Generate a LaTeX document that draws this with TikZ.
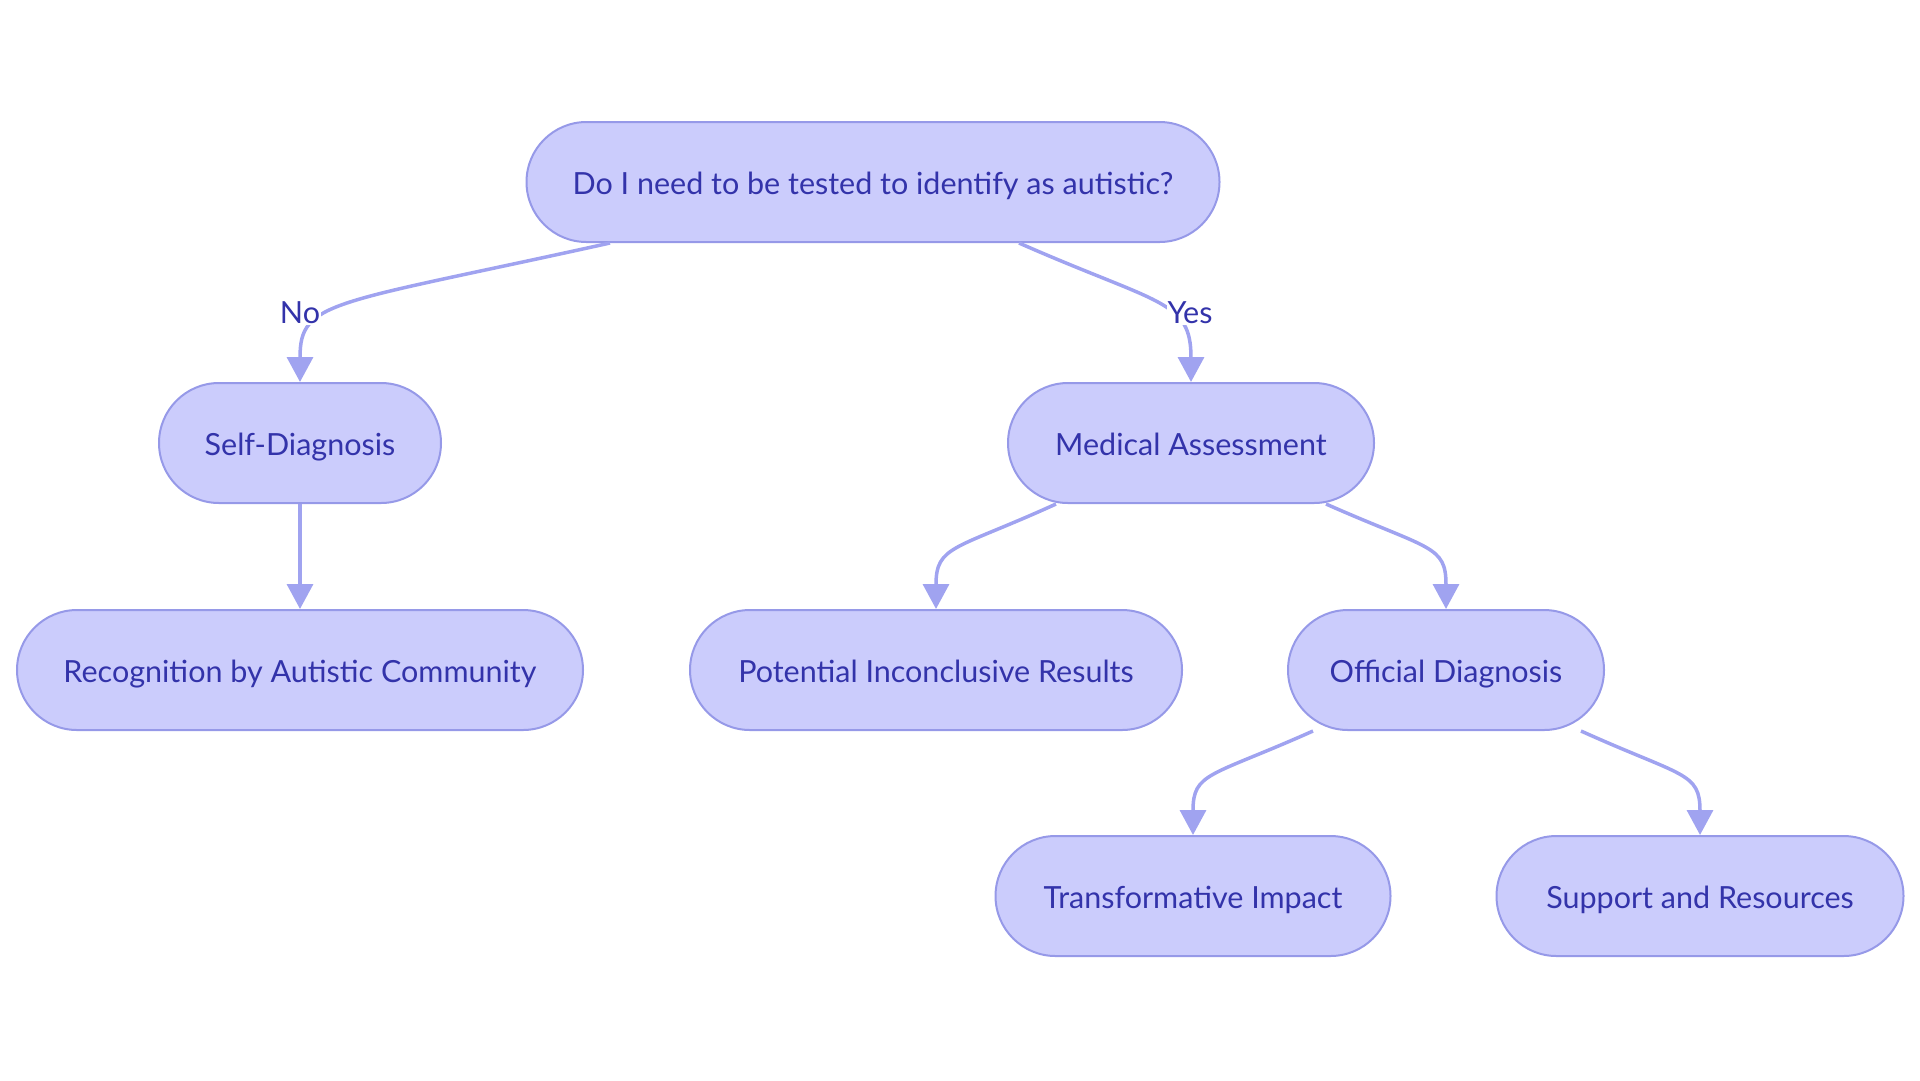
\documentclass[tikz,border=0pt]{standalone}
\usepackage{fontspec}
\setmainfont{Lato}
\usetikzlibrary{arrows.meta}
\definecolor{boxfill}{RGB}{203,204,252}
\definecolor{boxline}{RGB}{150,153,232}
\definecolor{edgeline}{RGB}{160,163,240}
\definecolor{boxtext}{RGB}{51,51,170}
\begin{document}
\begin{tikzpicture}[x=1pt,y=1pt,
  box/.style={draw=boxline,line width=2pt,fill=boxfill,rounded corners=60pt,minimum height=120pt,inner sep=0pt,text height=30pt,text depth=6pt,text=boxtext,font=\fontsize{30.5}{36}\selectfont},
  edge/.style={draw=edgeline,line width=3.5pt,-{Triangle[length=25pt,width=26pt]}},
  lbl/.style={fill=white,inner sep=1pt,text=boxtext,font=\fontsize{30.5}{36}\selectfont}]
\useasboundingbox (0,0) rectangle (1920,-1080);
\node[box,minimum width=693pt] (test) at (873,-182) {Do I need to be tested to identify as autistic?};
\node[box,minimum width=282pt] (self) at (300,-443) {Self-Diagnosis};
\node[box,minimum width=366pt] (medical) at (1191,-443) {Medical Assessment};
\node[box,minimum width=566pt] (community) at (300,-670) {Recognition by Autistic Community};
\node[box,minimum width=492pt] (inconclusive) at (936,-670) {Potential Inconclusive Results};
\node[box,minimum width=316pt] (official) at (1446,-670) {Official Diagnosis};
\node[box,minimum width=395pt] (impact) at (1193,-896) {Transformative Impact};
\node[box,minimum width=407pt] (support) at (1700,-896) {Support and Resources};
\draw[edge] ([xshift=-263pt]test.south) .. controls (330,-305) and (300,-300) .. (self.north);
\draw[edge] ([xshift=146pt]test.south) .. controls (1160,-305) and (1191,-300) .. (medical.north);
\draw[edge] (self.south) -- (community.north);
\draw[edge] ([xshift=-135pt]medical.south) .. controls (955,-550) and (936,-545) .. (inconclusive.north);
\draw[edge] ([xshift=135pt]medical.south) .. controls (1430,-550) and (1446,-545) .. (official.north);
\draw[edge] ([xshift=-133pt]official.south) .. controls (1210,-777) and (1193,-772) .. (impact.north);
\draw[edge] ([xshift=135pt]official.south) .. controls (1683,-777) and (1700,-772) .. (support.north);
\node[lbl] (no) at (300,-313) {No};
\node[lbl] (yes) at (1190,-313) {Yes};
\end{tikzpicture}
\end{document}
